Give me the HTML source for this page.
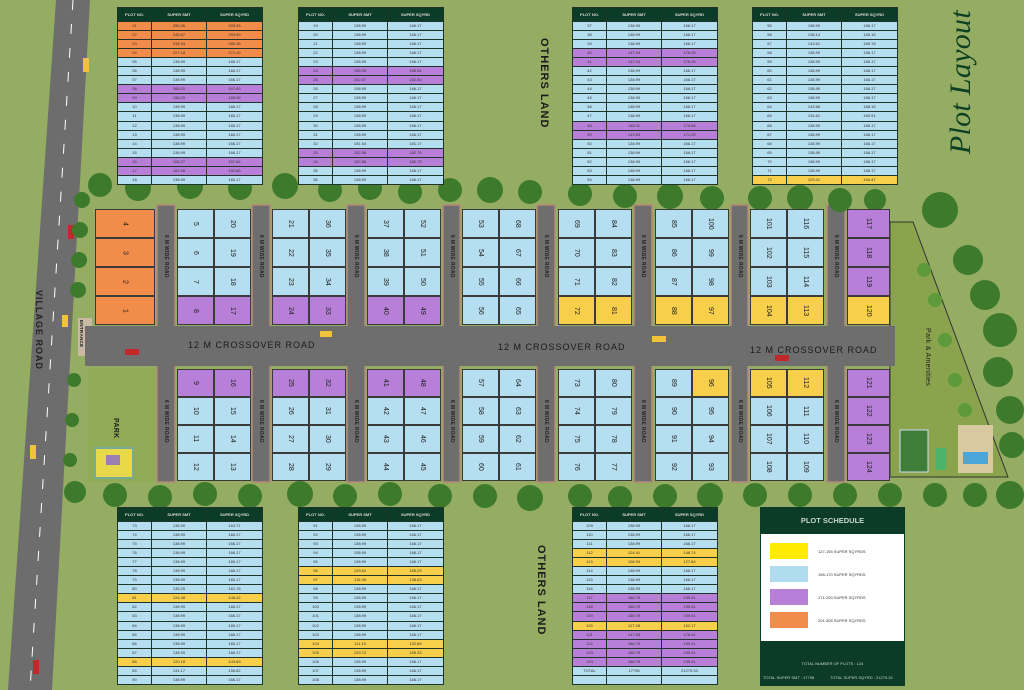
<!DOCTYPE html>
<html><head><meta charset="utf-8"><style>
*{margin:0;padding:0;box-sizing:border-box}
body{width:1024px;height:690px;overflow:hidden;position:relative;background:#94ad62;font-family:"Liberation Sans",sans-serif}
svg.bg{position:absolute;left:0;top:0}
.p{position:absolute;width:37px;height:29px;writing-mode:vertical-rl;display:flex;align-items:center;justify-content:center;font-size:7px;color:#222;border:1px solid #3a3a3a}
.q{height:28px}
.o{background:#f28c4a}.b{background:#b5def0}.v{background:#b77fd8}.y{background:#f8cf4a}
.rl{position:absolute;writing-mode:vertical-rl;font-size:5px;color:#222;font-weight:bold;letter-spacing:.3px}
table{position:absolute;border-collapse:collapse;width:145px;table-layout:fixed;font-size:4px;color:#333}
td,th{border:1px solid #1f3329;text-align:center;padding:0;line-height:1}
th{background:#0c3b28;color:#ddd;height:14px;font-weight:bold}
td{height:9.05px}
tr.o td{background:#f28c4a}tr.b td{background:#b5def0}tr.v td{background:#b77fd8}tr.y td{background:#f8cf4a}
.lbl{position:absolute;font-size:9px;color:#1a1a1a;letter-spacing:1px;white-space:nowrap}
</style></head><body>
<svg class="bg" width="1024" height="690" viewBox="0 0 1024 690">
<polygon points="56,0 90,0 52,690 8,690" fill="#6d6d6d"/>
<line x1="73" y1="0" x2="30" y2="690" stroke="#fff" stroke-width="1" stroke-dasharray="10 14"/>
<polygon points="890,222 913,222 1008,477 890,477" fill="#8aa44e" stroke="#333" stroke-width="1"/>
<rect x="88" y="368" width="67" height="114" fill="#8fab55"/>
<rect x="95" y="448" width="38" height="30" fill="#e8d94a" stroke="#7a9" stroke-width="2"/>
<rect x="106" y="455" width="14" height="10" fill="#9a7fb0"/>
<rect x="85" y="326" width="810" height="40" fill="#6e6e6e"/>
<rect x="78" y="318" width="14" height="38" fill="#c9b9a5"/>
<g stroke="#ddd" stroke-width="1">
<line x1="110" y1="343" x2="135" y2="343"/><line x1="185" y1="343" x2="210" y2="343"/><line x1="250" y1="344" x2="275" y2="344"/><line x1="420" y1="346" x2="445" y2="346"/><line x1="640" y1="347" x2="665" y2="347"/><line x1="700" y1="348" x2="725" y2="348"/></g>
<g fill="#6e6e6e" stroke="#b58a78" stroke-width="1.5">
<rect x="157" y="205" width="18" height="277"/><rect x="252" y="205" width="18" height="277"/><rect x="347" y="205" width="18" height="277"/><rect x="443" y="205" width="17" height="277"/><rect x="537" y="205" width="18" height="277"/><rect x="634" y="205" width="18" height="277"/><rect x="731" y="205" width="17" height="277"/><rect x="827" y="205" width="18" height="277"/></g>
<rect x="85" y="326" width="810" height="40" fill="#6e6e6e"/>
<rect x="900" y="430" width="28" height="42" fill="#3f7d3a" stroke="#cde" stroke-width="1"/>
<rect x="936" y="448" width="10" height="22" fill="#4cb36a"/>
<rect x="958" y="425" width="35" height="48" fill="#d9c9a0"/><rect x="963" y="452" width="25" height="12" fill="#4aa6d8"/>
<g fill="#cbb7a2"><rect x="320" y="331" width="12" height="6" fill="#f2c23a"/><rect x="125" y="349" width="14" height="6" fill="#c0282b"/><rect x="652" y="336" width="14" height="6" fill="#f2c23a"/><rect x="775" y="355" width="14" height="6" fill="#c0282b"/><rect x="68" y="225" width="6" height="14" fill="#c0282b"/><rect x="83" y="58" width="6" height="14" fill="#f2c23a"/><rect x="30" y="445" width="6" height="14" fill="#f2c23a"/><rect x="33" y="660" width="6" height="14" fill="#c0282b"/><rect x="62" y="315" width="6" height="12" fill="#f2c23a"/></g>
<g fill="#3e7a2c">
<circle cx="100" cy="185" r="12"/><circle cx="138" cy="188" r="13"/><circle cx="190" cy="186" r="13"/><circle cx="240" cy="188" r="12"/><circle cx="285" cy="186" r="13"/><circle cx="330" cy="190" r="12"/><circle cx="370" cy="188" r="12"/><circle cx="410" cy="192" r="12"/><circle cx="450" cy="190" r="12"/><circle cx="490" cy="190" r="13"/><circle cx="530" cy="192" r="12"/><circle cx="580" cy="194" r="12"/><circle cx="625" cy="196" r="12"/><circle cx="670" cy="196" r="13"/><circle cx="712" cy="198" r="12"/><circle cx="760" cy="198" r="12"/><circle cx="800" cy="198" r="13"/><circle cx="840" cy="200" r="12"/><circle cx="875" cy="200" r="11"/><circle cx="940" cy="210" r="18"/>
<circle cx="968" cy="260" r="15"/><circle cx="985" cy="295" r="15"/><circle cx="1000" cy="330" r="17"/><circle cx="998" cy="372" r="15"/><circle cx="1010" cy="410" r="14"/><circle cx="1012" cy="445" r="13"/><circle cx="1010" cy="495" r="14"/>
<circle cx="75" cy="492" r="11"/><circle cx="115" cy="495" r="12"/><circle cx="160" cy="497" r="12"/><circle cx="205" cy="494" r="12"/><circle cx="250" cy="496" r="12"/><circle cx="300" cy="494" r="13"/><circle cx="345" cy="496" r="12"/><circle cx="390" cy="494" r="12"/><circle cx="440" cy="496" r="12"/><circle cx="485" cy="496" r="12"/><circle cx="530" cy="498" r="13"/><circle cx="580" cy="496" r="12"/><circle cx="620" cy="498" r="12"/><circle cx="665" cy="496" r="12"/><circle cx="710" cy="496" r="13"/><circle cx="755" cy="495" r="12"/><circle cx="800" cy="495" r="12"/><circle cx="845" cy="495" r="12"/><circle cx="890" cy="495" r="12"/><circle cx="935" cy="495" r="12"/><circle cx="975" cy="495" r="12"/>
<circle cx="82" cy="200" r="8"/><circle cx="80" cy="230" r="8"/><circle cx="79" cy="260" r="8"/><circle cx="78" cy="290" r="8"/><circle cx="74" cy="380" r="7"/><circle cx="72" cy="420" r="7"/><circle cx="70" cy="460" r="7"/></g>
<g fill="#5e9a3c"><circle cx="924" cy="270" r="7"/><circle cx="935" cy="300" r="7"/><circle cx="945" cy="340" r="7"/><circle cx="955" cy="380" r="7"/><circle cx="965" cy="410" r="7"/></g>
</svg>

<div class="lbl" style="left:188px;top:340px">12 M CROSSOVER ROAD</div>
<div class="lbl" style="left:498px;top:342px">12 M CROSSOVER ROAD</div>
<div class="lbl" style="left:750px;top:345px">12 M CROSSOVER ROAD</div>
<div class="rl" style="left:79px;top:320px;font-size:4.5px">ENTRANCE</div>
<div class="rl" style="left:34px;top:290px;font-size:9px;letter-spacing:1px;color:#222">VILLAGE ROAD</div>
<div class="rl" style="left:112px;top:418px;font-size:7px">PARK</div>
<div class="rl" style="left:924px;top:328px;font-size:7px;font-weight:normal">Park &amp; Amenities</div>
<div class="rl" style="left:538px;top:38px;font-size:11px;letter-spacing:1px;color:#1a1a1a">OTHERS LAND</div>
<div class="rl" style="left:535px;top:545px;font-size:11px;letter-spacing:1px;color:#1a1a1a">OTHERS LAND</div>
<div class="rl" style="left:944px;top:10px;font-size:30px;font-family:'Liberation Serif',serif;font-style:italic;color:#0d3f22;font-weight:normal;transform:rotate(180deg)">Plot Layout</div>

<div class="rl" style="left:163px;top:235px">6 M WIDE ROAD</div><div class="rl" style="left:258px;top:235px">6 M WIDE ROAD</div><div class="rl" style="left:353px;top:235px">6 M WIDE ROAD</div><div class="rl" style="left:449px;top:235px">6 M WIDE ROAD</div><div class="rl" style="left:543px;top:235px">6 M WIDE ROAD</div><div class="rl" style="left:640px;top:235px">6 M WIDE ROAD</div><div class="rl" style="left:737px;top:235px">6 M WIDE ROAD</div><div class="rl" style="left:833px;top:235px">6 M WIDE ROAD</div>
<div class="rl" style="left:163px;top:400px">6 M WIDE ROAD</div><div class="rl" style="left:258px;top:400px">6 M WIDE ROAD</div><div class="rl" style="left:353px;top:400px">6 M WIDE ROAD</div><div class="rl" style="left:449px;top:400px">6 M WIDE ROAD</div><div class="rl" style="left:543px;top:400px">6 M WIDE ROAD</div><div class="rl" style="left:640px;top:400px">6 M WIDE ROAD</div><div class="rl" style="left:737px;top:400px">6 M WIDE ROAD</div><div class="rl" style="left:833px;top:400px">6 M WIDE ROAD</div>

<div class="p o" style="left:95px;top:209px;width:60px">4</div><div class="p o" style="left:95px;top:238px;width:60px">3</div><div class="p o" style="left:95px;top:267px;width:60px">2</div><div class="p o" style="left:95px;top:296px;width:60px">1</div>

<div class="p b" style="left:177px;top:209px">5</div><div class="p b" style="left:214px;top:209px">20</div><div class="p b" style="left:177px;top:238px">6</div><div class="p b" style="left:214px;top:238px">19</div><div class="p b" style="left:177px;top:267px">7</div><div class="p b" style="left:214px;top:267px">18</div><div class="p v" style="left:177px;top:296px">8</div><div class="p v" style="left:214px;top:296px">17</div>
<div class="p b" style="left:272px;top:209px">21</div><div class="p b" style="left:309px;top:209px">36</div><div class="p b" style="left:272px;top:238px">22</div><div class="p b" style="left:309px;top:238px">35</div><div class="p b" style="left:272px;top:267px">23</div><div class="p b" style="left:309px;top:267px">34</div><div class="p v" style="left:272px;top:296px">24</div><div class="p v" style="left:309px;top:296px">33</div>
<div class="p b" style="left:367px;top:209px">37</div><div class="p b" style="left:404px;top:209px">52</div><div class="p b" style="left:367px;top:238px">38</div><div class="p b" style="left:404px;top:238px">51</div><div class="p b" style="left:367px;top:267px">39</div><div class="p b" style="left:404px;top:267px">50</div><div class="p v" style="left:367px;top:296px">40</div><div class="p v" style="left:404px;top:296px">49</div>
<div class="p b" style="left:462px;top:209px">53</div><div class="p b" style="left:499px;top:209px">68</div><div class="p b" style="left:462px;top:238px">54</div><div class="p b" style="left:499px;top:238px">67</div><div class="p b" style="left:462px;top:267px">55</div><div class="p b" style="left:499px;top:267px">66</div><div class="p b" style="left:462px;top:296px">56</div><div class="p b" style="left:499px;top:296px">65</div>
<div class="p b" style="left:558px;top:209px">69</div><div class="p b" style="left:595px;top:209px">84</div><div class="p b" style="left:558px;top:238px">70</div><div class="p b" style="left:595px;top:238px">83</div><div class="p b" style="left:558px;top:267px">71</div><div class="p b" style="left:595px;top:267px">82</div><div class="p y" style="left:558px;top:296px">72</div><div class="p y" style="left:595px;top:296px">81</div>
<div class="p b" style="left:655px;top:209px">85</div><div class="p b" style="left:692px;top:209px">100</div><div class="p b" style="left:655px;top:238px">86</div><div class="p b" style="left:692px;top:238px">99</div><div class="p b" style="left:655px;top:267px">87</div><div class="p b" style="left:692px;top:267px">98</div><div class="p y" style="left:655px;top:296px">88</div><div class="p y" style="left:692px;top:296px">97</div>
<div class="p b" style="left:750px;top:209px">101</div><div class="p b" style="left:787px;top:209px">116</div><div class="p b" style="left:750px;top:238px">102</div><div class="p b" style="left:787px;top:238px">115</div><div class="p b" style="left:750px;top:267px">103</div><div class="p b" style="left:787px;top:267px">114</div><div class="p y" style="left:750px;top:296px">104</div><div class="p y" style="left:787px;top:296px">113</div>
<div class="p v" style="left:847px;top:209px;width:43px">117</div><div class="p v" style="left:847px;top:238px;width:43px">118</div><div class="p v" style="left:847px;top:267px;width:43px">119</div><div class="p y" style="left:847px;top:296px;width:43px">120</div>

<div class="p q v" style="left:177px;top:369px">9</div><div class="p q v" style="left:214px;top:369px">16</div><div class="p q b" style="left:177px;top:397px">10</div><div class="p q b" style="left:214px;top:397px">15</div><div class="p q b" style="left:177px;top:425px">11</div><div class="p q b" style="left:214px;top:425px">14</div><div class="p q b" style="left:177px;top:453px">12</div><div class="p q b" style="left:214px;top:453px">13</div>
<div class="p q v" style="left:272px;top:369px">25</div><div class="p q v" style="left:309px;top:369px">32</div><div class="p q b" style="left:272px;top:397px">26</div><div class="p q b" style="left:309px;top:397px">31</div><div class="p q b" style="left:272px;top:425px">27</div><div class="p q b" style="left:309px;top:425px">30</div><div class="p q b" style="left:272px;top:453px">28</div><div class="p q b" style="left:309px;top:453px">29</div>
<div class="p q v" style="left:367px;top:369px">41</div><div class="p q v" style="left:404px;top:369px">48</div><div class="p q b" style="left:367px;top:397px">42</div><div class="p q b" style="left:404px;top:397px">47</div><div class="p q b" style="left:367px;top:425px">43</div><div class="p q b" style="left:404px;top:425px">46</div><div class="p q b" style="left:367px;top:453px">44</div><div class="p q b" style="left:404px;top:453px">45</div>
<div class="p q b" style="left:462px;top:369px">57</div><div class="p q b" style="left:499px;top:369px">64</div><div class="p q b" style="left:462px;top:397px">58</div><div class="p q b" style="left:499px;top:397px">63</div><div class="p q b" style="left:462px;top:425px">59</div><div class="p q b" style="left:499px;top:425px">62</div><div class="p q b" style="left:462px;top:453px">60</div><div class="p q b" style="left:499px;top:453px">61</div>
<div class="p q b" style="left:558px;top:369px">73</div><div class="p q b" style="left:595px;top:369px">80</div><div class="p q b" style="left:558px;top:397px">74</div><div class="p q b" style="left:595px;top:397px">79</div><div class="p q b" style="left:558px;top:425px">75</div><div class="p q b" style="left:595px;top:425px">78</div><div class="p q b" style="left:558px;top:453px">76</div><div class="p q b" style="left:595px;top:453px">77</div>
<div class="p q b" style="left:655px;top:369px">89</div><div class="p q y" style="left:692px;top:369px">96</div><div class="p q b" style="left:655px;top:397px">90</div><div class="p q b" style="left:692px;top:397px">95</div><div class="p q b" style="left:655px;top:425px">91</div><div class="p q b" style="left:692px;top:425px">94</div><div class="p q b" style="left:655px;top:453px">92</div><div class="p q b" style="left:692px;top:453px">93</div>
<div class="p q y" style="left:750px;top:369px">105</div><div class="p q y" style="left:787px;top:369px">112</div><div class="p q b" style="left:750px;top:397px">106</div><div class="p q b" style="left:787px;top:397px">111</div><div class="p q b" style="left:750px;top:425px">107</div><div class="p q b" style="left:787px;top:425px">110</div><div class="p q b" style="left:750px;top:453px">108</div><div class="p q b" style="left:787px;top:453px">109</div>
<div class="p q v" style="left:847px;top:369px;width:43px">121</div><div class="p q v" style="left:847px;top:397px;width:43px">122</div><div class="p q v" style="left:847px;top:425px;width:43px">123</div><div class="p q v" style="left:847px;top:453px;width:43px">124</div>

<table style="left:117px;top:7px"><colgroup><col style="width:34px"><col style="width:55px"><col style="width:56px"></colgroup>
<tr><th>PLOT NO.</th><th>SUPER SMT</th><th>SUPER SQYRD</th></tr>
<tr class="o"><td>01</td><td>255.36</td><td>305.33</td></tr><tr class="o"><td>02</td><td>245.67</td><td>293.59</td></tr><tr class="o"><td>03</td><td>234.93</td><td>280.38</td></tr><tr class="o"><td>04</td><td>227.18</td><td>271.49</td></tr>
<tr class="b"><td>05</td><td>138.99</td><td>166.17</td></tr><tr class="b"><td>06</td><td>138.99</td><td>166.17</td></tr><tr class="b"><td>07</td><td>138.99</td><td>166.17</td></tr>
<tr class="v"><td>08</td><td>165.31</td><td>197.83</td></tr><tr class="v"><td>09</td><td>158.20</td><td>189.06</td></tr>
<tr class="b"><td>10</td><td>138.99</td><td>166.17</td></tr><tr class="b"><td>11</td><td>138.99</td><td>166.17</td></tr><tr class="b"><td>12</td><td>138.99</td><td>166.17</td></tr><tr class="b"><td>13</td><td>138.99</td><td>166.17</td></tr><tr class="b"><td>14</td><td>138.99</td><td>166.17</td></tr><tr class="b"><td>15</td><td>138.99</td><td>166.17</td></tr>
<tr class="v"><td>16</td><td>165.27</td><td>197.64</td></tr><tr class="v"><td>17</td><td>161.08</td><td>192.66</td></tr><tr class="b"><td>18</td><td>138.99</td><td>166.17</td></tr></table>

<table style="left:298px;top:7px"><colgroup><col style="width:34px"><col style="width:55px"><col style="width:56px"></colgroup>
<tr><th>PLOT NO.</th><th>SUPER SMT</th><th>SUPER SQYRD</th></tr>
<tr class="b"><td>19</td><td>138.99</td><td>166.17</td></tr><tr class="b"><td>20</td><td>138.99</td><td>166.17</td></tr><tr class="b"><td>21</td><td>138.99</td><td>166.17</td></tr><tr class="b"><td>22</td><td>138.99</td><td>166.17</td></tr><tr class="b"><td>23</td><td>138.99</td><td>166.17</td></tr>
<tr class="v"><td>24</td><td>155.05</td><td>185.54</td></tr><tr class="v"><td>25</td><td>152.67</td><td>182.50</td></tr>
<tr class="b"><td>26</td><td>138.99</td><td>166.17</td></tr><tr class="b"><td>27</td><td>138.99</td><td>166.17</td></tr><tr class="b"><td>28</td><td>138.99</td><td>166.17</td></tr><tr class="b"><td>29</td><td>138.99</td><td>166.17</td></tr><tr class="b"><td>30</td><td>138.99</td><td>166.17</td></tr><tr class="b"><td>31</td><td>138.99</td><td>166.17</td></tr>
<tr class="b"><td>32</td><td>151.54</td><td>181.17</td></tr><tr class="v"><td>33</td><td>152.56</td><td>182.79</td></tr><tr class="v"><td>34</td><td>152.56</td><td>182.79</td></tr><tr class="b"><td>35</td><td>138.99</td><td>166.17</td></tr><tr class="b"><td>36</td><td>138.99</td><td>166.17</td></tr></table>

<table style="left:572px;top:7px"><colgroup><col style="width:34px"><col style="width:55px"><col style="width:56px"></colgroup>
<tr><th>PLOT NO.</th><th>SUPER SMT</th><th>SUPER SQYRD</th></tr>
<tr class="b"><td>37</td><td>138.99</td><td>166.17</td></tr><tr class="b"><td>38</td><td>138.99</td><td>166.17</td></tr><tr class="b"><td>39</td><td>138.99</td><td>166.17</td></tr>
<tr class="v"><td>40</td><td>147.34</td><td>176.25</td></tr><tr class="v"><td>41</td><td>147.34</td><td>176.25</td></tr>
<tr class="b"><td>42</td><td>138.99</td><td>166.17</td></tr><tr class="b"><td>43</td><td>138.99</td><td>166.17</td></tr><tr class="b"><td>44</td><td>138.99</td><td>166.17</td></tr><tr class="b"><td>45</td><td>138.99</td><td>166.17</td></tr><tr class="b"><td>46</td><td>138.99</td><td>166.17</td></tr><tr class="b"><td>47</td><td>138.99</td><td>166.17</td></tr>
<tr class="v"><td>48</td><td>146.11</td><td>174.68</td></tr><tr class="v"><td>49</td><td>143.53</td><td>171.29</td></tr>
<tr class="b"><td>50</td><td>138.99</td><td>166.17</td></tr><tr class="b"><td>51</td><td>138.99</td><td>166.17</td></tr><tr class="b"><td>52</td><td>138.99</td><td>166.17</td></tr><tr class="b"><td>53</td><td>138.99</td><td>166.17</td></tr><tr class="b"><td>54</td><td>138.99</td><td>166.17</td></tr></table>

<table style="left:752px;top:7px"><colgroup><col style="width:34px"><col style="width:55px"><col style="width:56px"></colgroup>
<tr><th>PLOT NO.</th><th>SUPER SMT</th><th>SUPER SQYRD</th></tr>
<tr class="b"><td>55</td><td>138.99</td><td>166.17</td></tr><tr class="b"><td>56</td><td>138.14</td><td>165.15</td></tr><tr class="b"><td>57</td><td>143.61</td><td>169.78</td></tr><tr class="b"><td>58</td><td>138.99</td><td>166.17</td></tr><tr class="b"><td>59</td><td>138.99</td><td>166.17</td></tr><tr class="b"><td>60</td><td>138.99</td><td>166.17</td></tr><tr class="b"><td>61</td><td>138.99</td><td>166.17</td></tr><tr class="b"><td>62</td><td>138.99</td><td>166.17</td></tr><tr class="b"><td>63</td><td>138.99</td><td>166.17</td></tr><tr class="b"><td>64</td><td>143.68</td><td>168.15</td></tr><tr class="b"><td>65</td><td>134.61</td><td>160.91</td></tr><tr class="b"><td>66</td><td>138.99</td><td>166.17</td></tr><tr class="b"><td>67</td><td>138.99</td><td>166.17</td></tr><tr class="b"><td>68</td><td>138.99</td><td>166.17</td></tr><tr class="b"><td>69</td><td>138.99</td><td>166.17</td></tr><tr class="b"><td>70</td><td>138.99</td><td>166.17</td></tr><tr class="b"><td>71</td><td>138.99</td><td>166.17</td></tr>
<tr class="y"><td>72</td><td>129.31</td><td>154.47</td></tr></table>

<table style="left:117px;top:507px"><colgroup><col style="width:34px"><col style="width:55px"><col style="width:56px"></colgroup>
<tr><th>PLOT NO.</th><th>SUPER SMT</th><th>SUPER SQYRD</th></tr>
<tr class="b"><td>73</td><td>136.90</td><td>163.71</td></tr><tr class="b"><td>74</td><td>138.99</td><td>166.17</td></tr><tr class="b"><td>75</td><td>138.99</td><td>166.17</td></tr><tr class="b"><td>76</td><td>138.99</td><td>166.17</td></tr><tr class="b"><td>77</td><td>138.99</td><td>166.17</td></tr><tr class="b"><td>78</td><td>138.99</td><td>166.17</td></tr><tr class="b"><td>79</td><td>138.99</td><td>166.17</td></tr><tr class="b"><td>80</td><td>135.25</td><td>161.76</td></tr>
<tr class="y"><td>81</td><td>124.38</td><td>148.42</td></tr>
<tr class="b"><td>82</td><td>138.99</td><td>166.17</td></tr><tr class="b"><td>83</td><td>138.99</td><td>166.17</td></tr><tr class="b"><td>84</td><td>138.99</td><td>166.17</td></tr><tr class="b"><td>85</td><td>138.99</td><td>166.17</td></tr><tr class="b"><td>86</td><td>138.99</td><td>166.17</td></tr><tr class="b"><td>87</td><td>138.99</td><td>166.17</td></tr>
<tr class="y"><td>88</td><td>120.18</td><td>143.69</td></tr><tr class="b"><td>89</td><td>131.17</td><td>156.82</td></tr><tr class="b"><td>90</td><td>138.99</td><td>166.17</td></tr></table>

<table style="left:298px;top:507px"><colgroup><col style="width:34px"><col style="width:55px"><col style="width:56px"></colgroup>
<tr><th>PLOT NO.</th><th>SUPER SMT</th><th>SUPER SQYRD</th></tr>
<tr class="b"><td>91</td><td>138.99</td><td>166.17</td></tr><tr class="b"><td>92</td><td>138.99</td><td>166.17</td></tr><tr class="b"><td>93</td><td>138.99</td><td>166.17</td></tr><tr class="b"><td>94</td><td>138.99</td><td>166.17</td></tr><tr class="b"><td>95</td><td>138.99</td><td>166.17</td></tr>
<tr class="y"><td>96</td><td>129.64</td><td>155.29</td></tr><tr class="y"><td>97</td><td>115.96</td><td>138.63</td></tr>
<tr class="b"><td>98</td><td>138.99</td><td>166.17</td></tr><tr class="b"><td>99</td><td>138.99</td><td>166.17</td></tr><tr class="b"><td>100</td><td>138.99</td><td>166.17</td></tr><tr class="b"><td>101</td><td>138.99</td><td>166.17</td></tr><tr class="b"><td>102</td><td>138.99</td><td>166.17</td></tr><tr class="b"><td>103</td><td>138.99</td><td>166.17</td></tr>
<tr class="y"><td>104</td><td>111.15</td><td>132.89</td></tr><tr class="y"><td>105</td><td>129.74</td><td>155.33</td></tr>
<tr class="b"><td>106</td><td>138.99</td><td>166.17</td></tr><tr class="b"><td>107</td><td>138.99</td><td>166.17</td></tr><tr class="b"><td>108</td><td>138.99</td><td>166.17</td></tr></table>

<table style="left:572px;top:507px"><colgroup><col style="width:34px"><col style="width:55px"><col style="width:56px"></colgroup>
<tr><th>PLOT NO.</th><th>SUPER SMT</th><th>SUPER SQYRD</th></tr>
<tr class="b"><td>109</td><td>138.99</td><td>166.17</td></tr><tr class="b"><td>110</td><td>138.99</td><td>166.17</td></tr><tr class="b"><td>111</td><td>138.99</td><td>166.17</td></tr>
<tr class="y"><td>112</td><td>124.41</td><td>148.74</td></tr><tr class="y"><td>113</td><td>106.93</td><td>127.84</td></tr>
<tr class="b"><td>114</td><td>138.99</td><td>166.17</td></tr><tr class="b"><td>115</td><td>138.99</td><td>166.17</td></tr><tr class="b"><td>116</td><td>138.99</td><td>166.17</td></tr>
<tr class="v"><td>117</td><td>166.79</td><td>199.41</td></tr><tr class="v"><td>118</td><td>166.79</td><td>199.41</td></tr><tr class="v"><td>119</td><td>166.79</td><td>199.41</td></tr>
<tr class="y"><td>120</td><td>127.28</td><td>152.17</td></tr>
<tr class="v"><td>121</td><td>147.55</td><td>176.41</td></tr><tr class="v"><td>122</td><td>166.79</td><td>199.41</td></tr><tr class="v"><td>123</td><td>166.79</td><td>199.41</td></tr><tr class="v"><td>124</td><td>166.79</td><td>199.41</td></tr>
<tr class="b"><td>TOTAL</td><td>17798</td><td>21279.53</td></tr><tr class="b"><td></td><td></td><td></td></tr></table>

<div style="position:absolute;left:760px;top:507px;width:145px;height:179px;background:#0c3b28">
<div style="height:27px;color:#c9d6cc;font-size:7.5px;font-weight:bold;text-align:center;line-height:27px">PLOT SCHEDULE</div>
<div style="position:absolute;left:1px;top:27px;width:143px;height:107px;background:#fff">
<div style="position:absolute;left:9px;top:9px;width:38px;height:16px;background:#ffea00"></div><div style="position:absolute;left:57px;top:15px;font-size:4px;color:#333">127-155 SUPER SQYRDS</div>
<div style="position:absolute;left:9px;top:32px;width:38px;height:16px;background:#b0dcf0"></div><div style="position:absolute;left:57px;top:38px;font-size:4px;color:#333">156-170 SUPER SQYRDS</div>
<div style="position:absolute;left:9px;top:55px;width:38px;height:16px;background:#b77fd8"></div><div style="position:absolute;left:57px;top:61px;font-size:4px;color:#333">171-200 SUPER SQYRDS</div>
<div style="position:absolute;left:9px;top:78px;width:38px;height:16px;background:#f28c4a"></div><div style="position:absolute;left:57px;top:84px;font-size:4px;color:#333">201-305 SUPER SQYRDS</div>
</div>
<div style="position:absolute;left:0;top:154px;width:145px;text-align:center;font-size:4px;color:#c9d6cc">TOTAL NUMBER OF PLOTS : 124</div>
<div style="position:absolute;left:3px;top:168px;font-size:4px;color:#c9d6cc">TOTAL SUPER SMT : 17798</div>
<div style="position:absolute;left:70px;top:168px;font-size:4px;color:#c9d6cc">TOTAL SUPER SQYRD : 21279.15</div>
</div>
</body></html>
